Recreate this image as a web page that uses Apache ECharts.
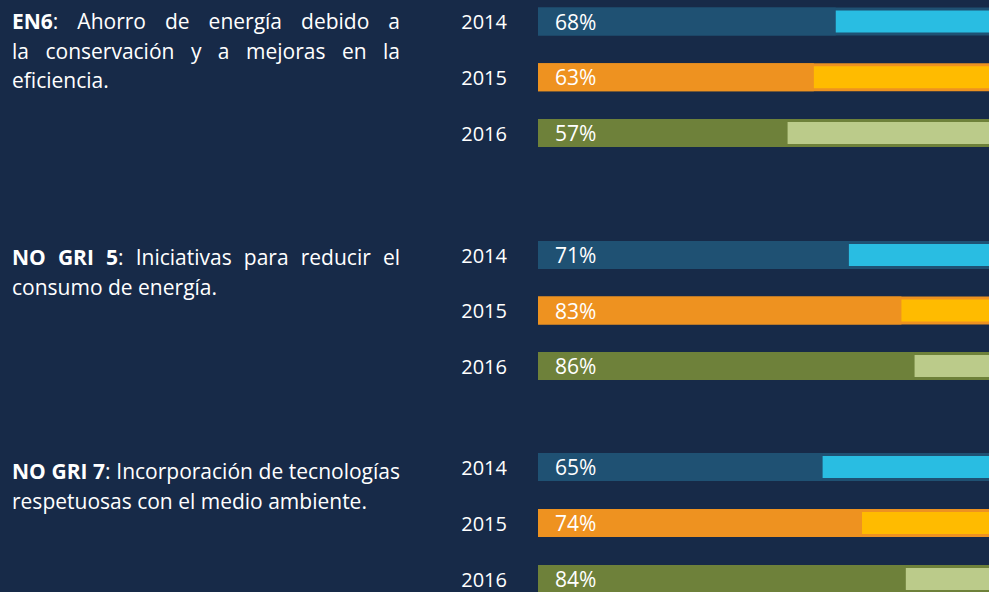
<!DOCTYPE html>
<html>
<head>
<meta charset="utf-8">
<script src="https://cdn.jsdelivr.net/npm/echarts@6/dist/echarts.min.js"></script>
<style>
html,body{margin:0;padding:0;background:#172a48;}
#main{width:989px;height:592px;}
</style>
</head>
<body>
<div id="main"></div>
<script>
// años de cada bloque
var years = ['2014', '2015', '2016'];
// porcentaje de cada indicador por año
var en6 = [68, 63, 57];
var noGri5 = [71, 83, 86];
var noGri7 = [65, 74, 84];
// la barra de fondo sigue más allá del borde derecho
var axisMax = 103;
var darkColors = ['#1f5173', '#ee9220', '#6e813a'];
var lightColors = ['#29bde2', '#ffbb00', '#bbcb8a'];
// textos de la izquierda, una fila por línea; *x* = negrita
var textEn6 = [
    ['*EN6*:', 'Ahorro', 'de', 'energía', 'debido', 'a'],
    ['la', 'conservación', 'y', 'a', 'mejoras', 'en', 'la'],
    ['eficiencia.']
];
var textGri5 = [
    ['*NO*', '*GRI*', '*5*:', 'Iniciativas', 'para', 'reducir', 'el'],
    ['consumo', 'de', 'energía.']
];
var textGri7 = [
    ['*NO*', '*GRI*', '*7*:', 'Incorporación', 'de', 'tecnologías'],
    ['respetuosas', 'con', 'el', 'medio', 'ambiente.']
];

var FONT = '"Open Sans"';
var blocks = [
    {values: en6, text: textEn6, top: 21.5, height: 111.5, textY: 21},
    {values: noGri5, text: textGri5, top: 255, height: 111, textY: 257},
    {values: noGri7, text: textGri7, top: 467, height: 112, textY: 471}
];

// medir palabras para justificar el texto
var ctx = document.createElement('canvas').getContext('2d');
function segs(tok) {
    var out = [];
    var re = /\*(.+?)\*/g, last = 0, m;
    while ((m = re.exec(tok)) !== null) {
        if (m.index > last) out.push({t: tok.slice(last, m.index), b: false});
        out.push({t: m[1], b: true});
        last = re.lastIndex;
    }
    if (last < tok.length) out.push({t: tok.slice(last), b: false});
    out.forEach(function (s) {
        ctx.font = (s.b ? 'bold ' : '') + '21px ' + FONT;
        s.w = ctx.measureText(s.t).width;
    });
    return out;
}
ctx.font = '21px ' + FONT;
var spaceW = ctx.measureText(' ').width;

var graphics = [];
blocks.forEach(function (bl) {
    bl.text.forEach(function (line, li) {
        var words = line.map(segs);
        var sum = 0;
        words.forEach(function (w) { w.forEach(function (s) { sum += s.w; }); });
        var justify = li < bl.text.length - 1;
        var gap = justify ? (400 - 12 - sum) / (line.length - 1) : spaceW;
        var x = 12;
        var y = bl.textY + li * 29.5;
        words.forEach(function (w) {
            w.forEach(function (s) {
                graphics.push({
                    type: 'text', x: x, y: y, silent: true,
                    style: {
                        text: s.t, fill: '#ffffff', fontSize: 21, fontFamily: FONT,
                        fontWeight: s.b ? 'bold' : 'normal', verticalAlign: 'middle'
                    }
                });
                x += s.w;
            });
            x += gap;
        });
    });
});

var grid = [], xAxis = [], yAxis = [], series = [];
blocks.forEach(function (bl, g) {
    grid.push({left: 538, width: 453, top: bl.top, height: bl.height});
    xAxis.push({gridIndex: g, type: 'value', min: 0, max: axisMax, show: false});
    yAxis.push({
        gridIndex: g, type: 'category', data: years, inverse: true, boundaryGap: false,
        axisLine: {show: false}, axisTick: {show: false}, splitLine: {show: false},
        axisLabel: {color: '#ffffff', fontSize: 20, fontFamily: FONT, margin: 31}
    });
    yAxis.push({gridIndex: g, type: 'category', data: years, inverse: true, boundaryGap: false, show: false});
    // barra de fondo oscura
    series.push({
        type: 'bar', xAxisIndex: g, yAxisIndex: 2 * g, barWidth: 28, barGap: '-100%', clip: false,
        data: years.map(function () { return axisMax; }),
        itemStyle: {color: function (p) { return darkColors[p.dataIndex]; }}
    });
    // parte clara (resto hasta el 100%)
    series.push({
        type: 'bar', xAxisIndex: g, yAxisIndex: 2 * g + 1, barWidth: 22, clip: false,
        data: years.map(function () { return axisMax; }),
        itemStyle: {color: function (p) { return lightColors[p.dataIndex]; }}
    });
    // valor
    series.push({
        type: 'bar', xAxisIndex: g, yAxisIndex: 2 * g, barWidth: 28, barGap: '-100%', clip: false,
        data: bl.values,
        itemStyle: {color: function (p) { return darkColors[p.dataIndex]; }},
        label: {
            show: true, position: 'insideLeft', distance: 17, formatter: '{c}%',
            color: '#ffffff', fontSize: 21, fontFamily: FONT
        }
    });
});

var myChart = echarts.init(document.getElementById('main'), null, {renderer: 'svg'});
myChart.setOption({
    backgroundColor: '#172a48',
    animation: false,
    grid: grid,
    xAxis: xAxis,
    yAxis: yAxis,
    series: series,
    graphic: graphics
});
</script>
</body>
</html>
